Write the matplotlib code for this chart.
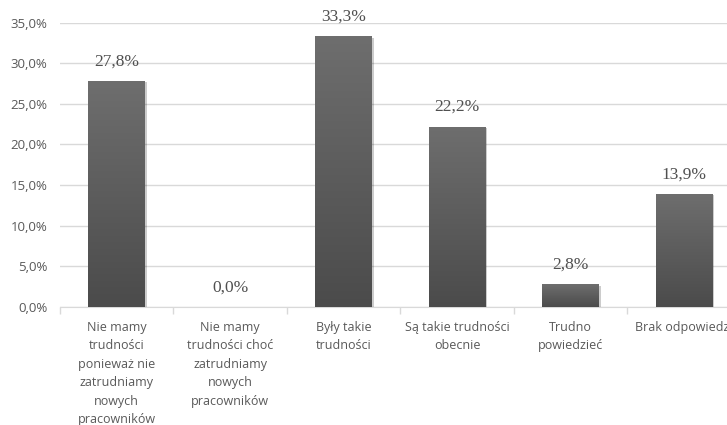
import matplotlib.pyplot as plt
import matplotlib.patheffects as pe
import numpy as np
from matplotlib.ticker import FixedLocator

categories = [
    'Nie mamy\ntrudności\nponieważ nie\nzatrudniamy\nnowych\npracowników',
    'Nie mamy\ntrudności choć\nzatrudniamy\nnowych\npracowników',
    'Były takie\ntrudności',
    'Są takie trudności\nobecnie',
    'Trudno\npowiedzieć',
    'Brak odpowiedzi',
]
values = [27.8, 0.0, 33.3, 22.2, 2.8, 13.9]
yticks = [0, 5, 10, 15, 20, 25, 30, 35]

W, H = 727, 425
fig = plt.figure(figsize=(W / 100, H / 100), dpi=100)
# plot area runs past the right edge, as in the original
ax = fig.add_axes([60 / W, (H - 307) / H, 681 / W, 284.5 / H])

x = np.arange(len(categories))
bars = ax.bar(x, values, width=0.5, color='#5a5a5a', zorder=3,
              path_effects=[pe.SimplePatchShadow(offset=(1, -1), alpha=0.2, shadow_rgbFace='#000000'),
                            pe.Normal()])

# vertical gradient inside each bar
grad = np.linspace(0, 1, 256).reshape(-1, 1)
cmap = plt.matplotlib.colors.LinearSegmentedColormap.from_list('g', ['#4b4b4b', '#6e6e6e'])
for b, v in zip(bars, values):
    if v <= 0:
        continue
    im = ax.imshow(grad, cmap=cmap, aspect='auto', origin='lower', zorder=4,
                   extent=[b.get_x(), b.get_x() + b.get_width(), 0, v])
    im.set_clip_path(b)

for xi, v in zip(x, values):
    ax.annotate(f'{v:.1f}%'.replace('.', ','), (xi, v), xytext=(0, 8.5), textcoords='offset points',
                ha='center', va='bottom', fontsize=12.5, color='#505050',
                family='Liberation Serif', zorder=5)

ax.set_xlim(-0.5, len(categories) - 0.5)
ax.set_ylim(0, 35)
ax.set_yticks(yticks)
ax.set_yticklabels([f'{t:.1f}%'.replace('.', ',') for t in yticks], fontsize=9.5, color='#595959',
                   family='Open Sans')
ax.set_xticks(x)
ax.set_xticklabels(categories, fontsize=9, color='#595959', family='Open Sans', linespacing=1.55)
ax.tick_params(axis='y', length=0, pad=9)
ax.tick_params(axis='x', which='major', length=0, pad=10)
ax.xaxis.set_minor_locator(FixedLocator(np.arange(-0.5, len(categories), 1)))
ax.tick_params(axis='x', which='minor', length=5, color='#d9d9d9', width=1)

ax.grid(axis='y', color='#d9d9d9', linewidth=1, zorder=0)
for s in ['top', 'right', 'left']:
    ax.spines[s].set_visible(False)
ax.spines['bottom'].set_color('#d9d9d9')
ax.set_axisbelow(True)

fig.savefig('out.png', dpi=100)
